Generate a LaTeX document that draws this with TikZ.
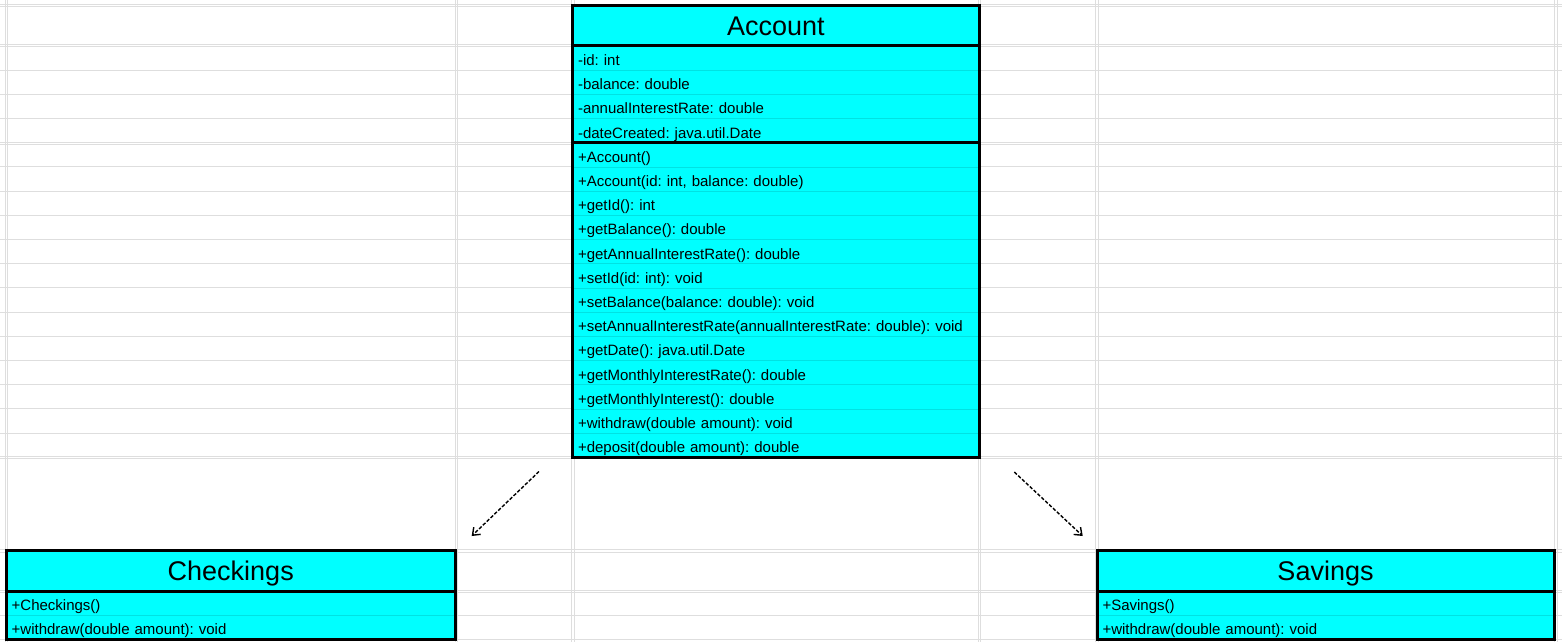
\documentclass[tikz,border=0pt]{standalone}
\usepackage{fontspec}
\setmainfont{Liberation Sans}
\frenchspacing
\usepackage{tikz}
\usetikzlibrary{positioning}
\usetikzlibrary{arrows.meta}

\definecolor{umlfill}{RGB}{0,255,255}
\definecolor{rowrule}{RGB}{0,226,226}
\definecolor{gridrule}{RGB}{222,222,222}

\tikzset{
    classname/.style={rectangle, fill=umlfill, minimum width=#1, minimum height=40.6pt,
        inner sep=0pt, outer sep=0pt, text height=20pt, text depth=0pt,
        font=\fontsize{27}{27}\selectfont},
    member/.style={rectangle, fill=umlfill, draw=rowrule, line width=0.8pt, text width=#1,
        minimum height=24.2pt, inner xsep=5.5pt, inner ysep=0pt, outer sep=0pt,
        text height=15pt, text depth=0pt, align=left, font=\fontsize{15}{17}\selectfont},
    classbox/.style={draw=black, line width=3pt},
    cellrule/.style={draw=gridrule, line width=0.9pt},
    depends/.style={draw=black, line width=1.4pt, dash pattern=on 3.5pt off 1.8pt,
        -{Straight Barb[length=6.5pt, width=10pt]}}
}

\begin{document}
\begin{tikzpicture}[x=1pt, y=-1pt]
    \useasboundingbox (0,0) rectangle (1562,642);
    \fill[white] (0,0) rectangle (1562,642);

    \foreach \gy in {4,6.5,44,46.5,70.1,94.3,118.5,142,144.5,166.9,191.1,215.3,239.5,263.7,
        287.9,312.1,336.3,360.5,384.7,408.9,433.1,456.3,458.8,549.5,552,590,592.5,615.3,639.5}
        \draw[cellrule] (0,\gy) -- (1562,\gy);
    \foreach \gx in {5,7.5,455,457.5,571.5,574,978,980.5,1095.5,1098,1554.5,1557}
        \draw[cellrule] (\gx,0) -- (\gx,642);

    \node[classname=406.7pt, anchor=north west] (account-0) at (572.5,5.3) {Account};
    \foreach \txt [count=\i, remember=\i as \j (initially 0)] in {
        {-id: int},
        {-balance: double},
        {-annualInterestRate: double},
        {-dateCreated: java.util.Date},
        {+Account()},
        {+Account(id: int, balance: double)},
        {+getId(): int},
        {+getBalance(): double},
        {+getAnnualInterestRate(): double},
        {+setId(id: int): void},
        {+setBalance(balance: double): void},
        {+setAnnualInterestRate(annualInterestRate: double): void},
        {+getDate(): java.util.Date},
        {+getMonthlyInterestRate(): double},
        {+getMonthlyInterest(): double},
        {+withdraw(double amount): void},
        {+deposit(double amount): double}}
        \node[member=395.7pt, below=0pt of account-\j] (account-\i) {\txt};
    \draw[classbox] (account-0.north west) rectangle (account-17.south east);
    \draw[classbox] (account-0.south west) -- (account-0.south east);
    \draw[classbox] (account-4.south west) -- (account-4.south east);

    \node[classname=449.1pt, anchor=north west] (checkings-0) at (6.2,550.5) {Checkings};
    \node[member=438.1pt, below=0pt of checkings-0] (checkings-1) {+Checkings()};
    \node[member=438.1pt, below=0pt of checkings-1] (checkings-2) {+withdraw(double amount): void};
    \draw[classbox] (checkings-0.north west) rectangle (checkings-2.south east);
    \draw[classbox] (checkings-0.south west) -- (checkings-0.south east);

    \node[classname=457pt, anchor=north west] (savings-0) at (1097,550.5) {Savings};
    \node[member=446pt, below=0pt of savings-0] (savings-1) {+Savings()};
    \node[member=446pt, below=0pt of savings-1] (savings-2) {+withdraw(double amount): void};
    \draw[classbox] (savings-0.north west) rectangle (savings-2.south east);
    \draw[classbox] (savings-0.south west) -- (savings-0.south east);

    \coordinate (checkings-tail) at (539,471.5);
    \coordinate (checkings-head) at (471.7,536);
    \coordinate (savings-tail) at (1014.3,472);
    \coordinate (savings-head) at (1082.7,536);
    \draw[depends] (checkings-tail) -- (checkings-head);
    \draw[depends] (savings-tail) -- (savings-head);
\end{tikzpicture}
\end{document}
